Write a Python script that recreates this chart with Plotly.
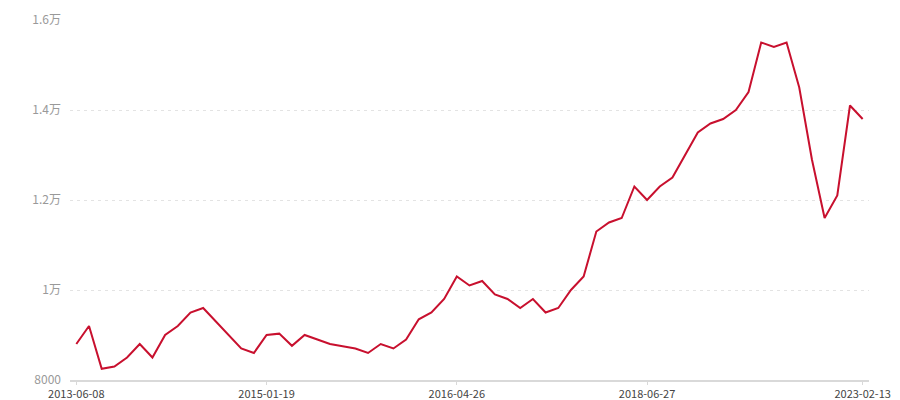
import plotly.graph_objects as go

values = [8800, 9200, 8250, 8300, 8500, 8800, 8500, 9000, 9200, 9500,
          9600, 9300, 9000, 8700, 8600, 9000, 9030, 8760, 9000, 8900,
          8800, 8750, 8700, 8600, 8800, 8700, 8900, 9350, 9500, 9800,
          10300, 10100, 10200, 9900, 9800, 9600, 9800, 9500, 9600, 10000,
          10300, 11300, 11500, 11600, 12300, 12000, 12300, 12500, 13000, 13500,
          13700, 13800, 14000, 14400, 15500, 15400, 15500, 14500, 12900, 11600,
          12100, 14100, 13800]
positions = list(range(len(values)))

x_tick_positions = [0, 15, 30, 45, 62]
x_tick_labels = ["2013-06-08", "2015-01-19", "2016-04-26", "2018-06-27", "2023-02-13"]

y_tick_values = [8000, 10000, 12000, 14000, 16000]
y_tick_labels = ["8000", "1万", "1.2万", "1.4万", "1.6万"]

fig = go.Figure()
fig.add_trace(go.Scatter(
    x=positions, y=values, mode="lines",
    line=dict(color="#c8102e", width=2),
    hoverinfo="y",
))

# page body has an 8px margin, so the figure is sized to fit the window
fig.update_layout(
    width=892, height=392,
    margin=dict(l=62, r=31, t=12, b=20),
    paper_bgcolor="white", plot_bgcolor="white",
    font=dict(family="Noto Sans CJK SC, Noto Sans, sans-serif", size=12, color="#333"),
    showlegend=False,
    xaxis=dict(
        range=[-0.5, 62.5], automargin=False,
        tickmode="array", tickvals=x_tick_positions, ticktext=x_tick_labels,
        showgrid=False, zeroline=False,
        showline=True, linecolor="#d9d9d9", linewidth=2,
        ticks="outside", ticklen=3, tickcolor="#d9d9d9",
        tickfont=dict(color="#444", size=11),
        ticklabelstandoff=0,
    ),
    yaxis=dict(
        range=[8000, 16000], automargin=False,
        tickmode="array", tickvals=y_tick_values, ticktext=y_tick_labels,
        showgrid=True, gridcolor="#e3e3e3", griddash="3px,4px", gridwidth=1,
        zeroline=False, showline=False,
        tickfont=dict(color="#999", size=12),
        ticks="", ticklabelstandoff=8,
    ),
)

fig.write_html("out.html")
